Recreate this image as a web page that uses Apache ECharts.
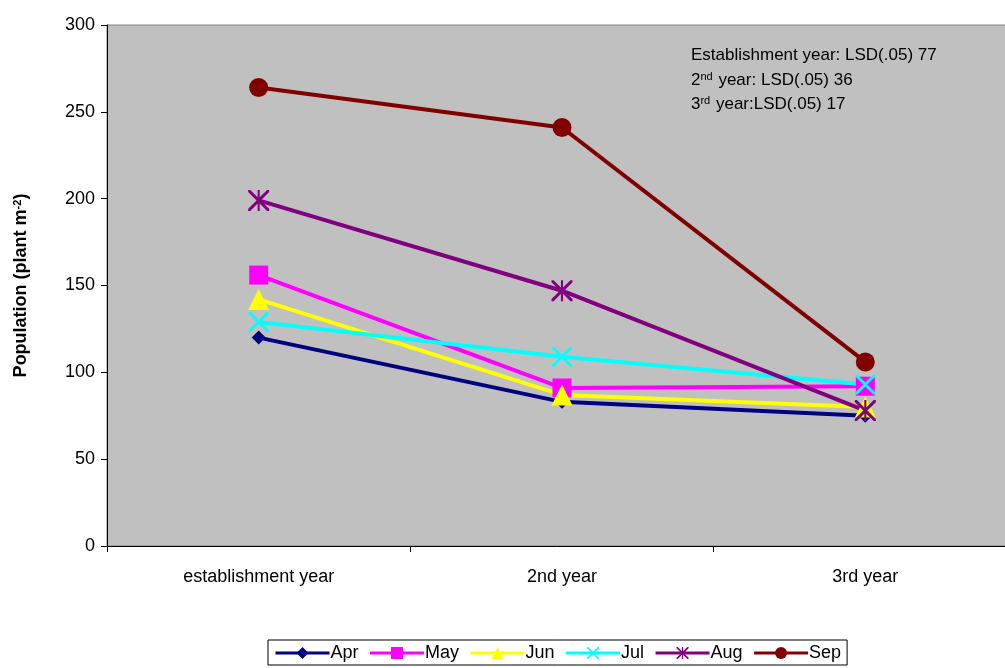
<!DOCTYPE html>
<html>
<head>
<meta charset="utf-8">
<script src="https://cdn.jsdelivr.net/npm/echarts@6/dist/echarts.min.js"></script>
<style>
  html, body { margin: 0; padding: 0; background: #ffffff; }
  #chart { width: 1005px; height: 668px; }
</style>
</head>
<body>
<div id="chart"></div>
<script>
// Plant population by sowing month across stand years
const categories = ['establishment year', '2nd year', '3rd year'];
const months = ['Apr', 'May', 'Jun', 'Jul', 'Aug', 'Sep'];
const apr = [120, 83, 75];
const may = [156, 91, 92];
const jun = [142, 87, 80];
const jul = [129, 109, 93];
const aug = [199, 147, 78];
const sep = [264, 241, 106];
const yTicks = [0, 50, 100, 150, 200, 250, 300];

const FONT = 'Liberation Sans, Arial, sans-serif';

// Custom marker outlines
const crossPath = 'path://M0,0 L2,0 L10,8 L18,0 L20,0 L20,2 L12,10 L20,18 L20,20 L18,20 L10,12 L2,20 L0,20 L0,18 L8,10 L0,2 Z';
const starPath = 'path://M0,0 L2,0 L10,8 L18,0 L20,0 L20,2 L12,10 L20,18 L20,20 L18,20 L10,12 L2,20 L0,20 L0,18 L8,10 L0,2 Z M9,0 L11,0 L11,20 L9,20 Z';

const seriesDefs = [
  { name: 'Apr', data: apr, color: '#000080', symbol: 'diamond', size: 14 },
  { name: 'May', data: may, color: '#FF00FF', symbol: 'rect', size: 19 },
  { name: 'Jun', data: jun, color: '#FFFF00', symbol: 'triangle', size: 21 },
  { name: 'Jul', data: jul, color: '#00FFFF', symbol: crossPath, size: 20 },
  { name: 'Aug', data: aug, color: '#800080', symbol: starPath, size: 21 },
  { name: 'Sep', data: sep, color: '#800000', symbol: 'circle', size: 19 }
];

const chart = echarts.init(document.getElementById('chart'), null, { renderer: 'canvas' });

chart.setOption({
  animation: false,
  backgroundColor: '#ffffff',
  grid: {
    left: 107, top: 25, width: 910, height: 521,
    outerBoundsMode: 'none',
    containLabel: false,
    show: true, backgroundColor: '#C0C0C0', borderWidth: 1, borderColor: '#808080'
  },
  xAxis: {
    type: 'category',
    data: categories,
    boundaryGap: true,
    axisLine: { lineStyle: { color: '#000', width: 1 } },
    axisTick: { show: true, length: 6, lineStyle: { color: '#000' } },
    axisLabel: { color: '#000', fontFamily: FONT, fontSize: 18, margin: 22 },
    splitLine: { show: false }
  },
  yAxis: {
    type: 'value',
    min: yTicks[0],
    max: yTicks[yTicks.length - 1],
    interval: 50,
    axisLine: { show: true, lineStyle: { color: '#000', width: 1 } },
    axisTick: { show: true, length: 6, lineStyle: { color: '#000' } },
    axisLabel: { color: '#000', fontFamily: FONT, fontSize: 18, margin: 12 },
    splitLine: { show: false },
    name: '{b|Population (plant m}{s|-2}{b|)}',
    nameLocation: 'middle',
    nameRotate: 90,
    nameGap: 76,
    nameTextStyle: {
      rich: {
        b: { fontFamily: FONT, fontSize: 18, fontWeight: 'bold', color: '#000' },
        s: { fontFamily: FONT, fontSize: 11, fontWeight: 'bold', color: '#000', verticalAlign: 'top', padding: [0, 0, 8, 0] }
      }
    }
  },
  legend: {
    left: 268,
    top: 640,
    orient: 'horizontal',
    itemWidth: 54,
    itemHeight: 15,
    itemGap: 10,
    padding: [4, 6, 3, 6],
    borderColor: '#000',
    borderWidth: 1,
    borderRadius: 0,
    backgroundColor: '#fff',
    lineStyle: { width: 3 },
    textStyle: { fontFamily: FONT, fontSize: 18, color: '#000', padding: [0, 0, 0, -4] },
    data: months
  },
  graphic: [
    {
      type: 'text',
      left: 691,
      top: 47,
      style: {
        text: 'Establishment year: LSD(.05) 77',
        fontFamily: FONT, fontSize: 17, fill: '#000'
      }
    },
    {
      type: 'text',
      left: 691,
      top: 71,
      style: {
        text: '{n|2}{s|nd}{n| year: LSD(.05) 36}',
        rich: {
          n: { fontFamily: FONT, fontSize: 17, fill: '#000' },
          s: { fontFamily: FONT, fontSize: 11, fill: '#000', verticalAlign: 'top', padding: [0, 1, 7, 0] }
        }
      }
    },
    {
      type: 'text',
      left: 691,
      top: 95,
      style: {
        text: '{n|3}{s|rd}{n| year:LSD(.05) 17}',
        rich: {
          n: { fontFamily: FONT, fontSize: 17, fill: '#000' },
          s: { fontFamily: FONT, fontSize: 11, fill: '#000', verticalAlign: 'top', padding: [0, 1, 7, 0] }
        }
      }
    }
  ],
  series: seriesDefs.map(d => ({
    name: d.name,
    type: 'line',
    data: d.data,
    symbol: d.symbol,
    symbolSize: d.size,
    showAllSymbol: true,
    color: d.color,
    lineStyle: { color: d.color, width: 4 },
    itemStyle: { color: d.color, borderWidth: 0, opacity: 1 },
    emphasis: { disabled: true }
  }))
});
</script>
</body>
</html>
